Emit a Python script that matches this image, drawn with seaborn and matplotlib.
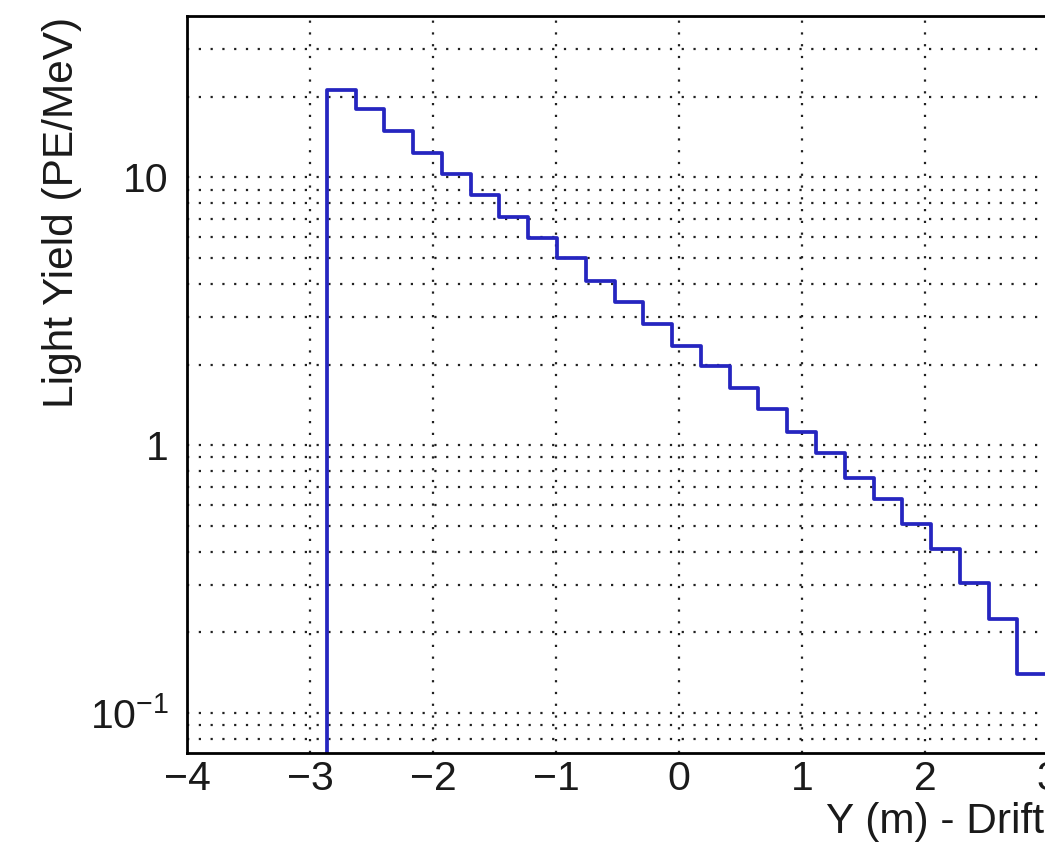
import numpy as np
import matplotlib
matplotlib.use("Agg")
import matplotlib.pyplot as plt
from matplotlib.ticker import FixedLocator, FixedFormatter, LogLocator, AutoMinorLocator, NullFormatter
import seaborn as sns

# ---- data ----
bin_edges = [-3.098, -2.864, -2.630, -2.396, -2.162, -1.928, -1.694, -1.460, -1.226,
             -0.992, -0.758, -0.524, -0.290, -0.056, 0.178, 0.412, 0.646, 0.880,
             1.114, 1.348, 1.582, 1.816, 2.050, 2.284, 2.518, 2.752, 2.986]
light_yield = [0.0, 21.1, 18.0, 14.9, 12.3, 10.26, 8.57, 7.11, 5.94, 4.98, 4.09,
               3.43, 2.83, 2.35, 1.97, 1.64, 1.36, 1.12, 0.936, 0.755, 0.629,
               0.510, 0.409, 0.307, 0.224, 0.140]
x_ticks = [-4, -3, -2, -1, 0, 1, 2, 3, 4]
x_tick_labels = ["\u22124", "\u22123", "\u22122", "\u22121", "0", "1", "2", "3", "4"]
y_ticks = [0.1, 1, 10]
y_tick_labels = ["$10^{-1}$", "1", "10"]
x_label = "Y (m) - Drift"
y_label = "Light Yield (PE/MeV)"

sns.set_theme(style="white")
plt.rcParams["font.family"] = ["Liberation Sans", "DejaVu Sans"]
plt.rcParams["mathtext.fontset"] = "custom"
plt.rcParams["mathtext.rm"] = "Liberation Sans"
plt.rcParams["mathtext.it"] = "Liberation Sans:italic"
plt.rcParams["mathtext.bf"] = "Liberation Sans:bold"

W, H = 1045, 842
fig = plt.figure(figsize=(W / 100, H / 100), dpi=100)
fig.patch.set_facecolor("white")

# axes geometry in pixels (right part extends beyond the picture, as in the reference)
left_px, top_px, bottom_px = 187, 16, 753
px_per_unit = 123.0
width_px = px_per_unit * 8
ax = fig.add_axes([left_px / W, (H - bottom_px) / H, width_px / W, (bottom_px - top_px) / H])

centers = [(bin_edges[i] + bin_edges[i + 1]) / 2 for i in range(len(light_yield))]
sns.histplot(x=centers, weights=light_yield, bins=bin_edges, element="step",
             fill=False, color="#2525c0", linewidth=2.7, ax=ax)

ax.set_yscale("log")
ax.set_xlim(-4, 4)
ax.set_ylim(0.071, 40)

# ticks
ax.xaxis.set_major_locator(FixedLocator(x_ticks))
ax.xaxis.set_major_formatter(FixedFormatter(x_tick_labels))
ax.xaxis.set_minor_locator(AutoMinorLocator(5))
ax.yaxis.set_major_locator(FixedLocator(y_ticks))
ax.yaxis.set_major_formatter(FixedFormatter(y_tick_labels))
ax.yaxis.set_minor_locator(LogLocator(base=10, subs=np.arange(2, 10)))
ax.yaxis.set_minor_formatter(NullFormatter())

ax.tick_params(axis="both", which="both", direction="in", color="black",
               labelsize=29.5, labelcolor="#1a1a1a")
ax.tick_params(axis="x", which="major", length=14, width=1.7, pad=5)
ax.tick_params(axis="x", which="minor", length=7, width=1.5)
ax.tick_params(axis="y", which="major", length=18, width=1.7, pad=13)
ax.tick_params(axis="y", which="minor", length=9, width=1.5)

# dotted grid (major x, major+minor y)
grid_kw = dict(color="#202020", linewidth=1.6, linestyle=(0, (1, 4.3)))
ax.grid(True, which="major", axis="x", **grid_kw)
ax.grid(True, which="both", axis="y", **grid_kw)
ax.set_axisbelow(True)

for s in ax.spines.values():
    s.set_color("black")
    s.set_linewidth(2.0)

# labels
ax.set_xlabel(x_label, fontsize=30.5, color="#1a1a1a", ha="left")
ax.xaxis.set_label_coords((826 - left_px) / width_px, -0.066)
ax.set_ylabel(y_label, fontsize=30.5, color="#1a1a1a", ha="center")
ax.yaxis.set_label_coords(-0.107, (bottom_px - 212) / (bottom_px - top_px))

fig.savefig("out.png", dpi=100, facecolor="white")
